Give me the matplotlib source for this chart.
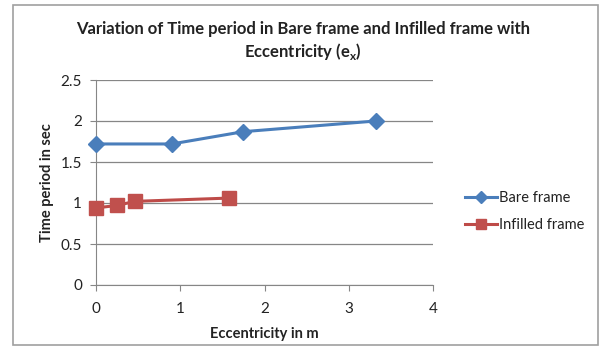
import matplotlib
matplotlib.use("Agg")
import matplotlib.pyplot as plt
from matplotlib.patches import Rectangle

bare_x = [0.0, 0.90, 1.75, 3.32]
bare_y = [1.72, 1.72, 1.87, 2.00]
inf_x = [0.0, 0.25, 0.46, 1.58]
inf_y = [0.94, 0.97, 1.02, 1.06]
xticks = [0, 1, 2, 3, 4]
yticks = [0, 0.5, 1, 1.5, 2, 2.5]
ytick_labels = ["0", "0.5", "1", "1.5", "2", "2.5"]

plt.rcParams['font.family'] = ['Lato', 'DejaVu Sans']

fig = plt.figure(figsize=(6.03, 3.56), dpi=100)
fig.patches.append(Rectangle((13/603, 1 - 345/356), (598-13)/603, (345-5)/356,
                             transform=fig.transFigure, fill=False,
                             edgecolor='#a0a0a0', linewidth=1.2))
ax = fig.add_axes([96/603, 1 - 285/356, (433-96)/603, (285-80)/356])

ax.plot(bare_x, bare_y, color='#4a7ebb', linewidth=2.2, marker='D', markersize=8,
        markerfacecolor='#4a7ebb', markeredgecolor='#4a7ebb', label='Bare frame',
        zorder=3, clip_on=False)
ax.plot(inf_x, inf_y, color='#be4b48', linewidth=2.2, marker='s', markersize=10,
        markerfacecolor='#c0504d', markeredgecolor='#c0504d', label='Infilled frame',
        zorder=3, clip_on=False)

ax.set_xlim(0, 4)
ax.set_ylim(0, 2.5)
ax.set_xticks(xticks)
ax.set_yticks(yticks)
ax.set_yticklabels(ytick_labels)
ax.yaxis.grid(True, color='#868686', linewidth=0.9)
ax.set_axisbelow(True)
for s in ['top', 'right']:
    ax.spines[s].set_visible(False)
for s in ['left', 'bottom']:
    ax.spines[s].set_color('#868686')
ax.tick_params(axis='both', colors='#868686', labelcolor='#222222', labelsize=11, length=4)
ax.tick_params(axis='y', pad=6)
ax.tick_params(axis='x', pad=8)

ax.set_xlabel('Eccentricity in m', fontsize=10.5, fontweight='bold', color='#222222', labelpad=8)
ax.set_ylabel('Time period in sec', fontsize=10.5, fontweight='bold', color='#222222', labelpad=5)

fig.text(0.503, 1 - 29/356, 'Variation of Time period in Bare frame and Infilled frame with',
         ha='center', va='center', fontsize=12, fontweight='bold', color='#222222')
fig.text(0.503, 1 - 52/356, 'Eccentricity (e$_\\mathregular{x}$)',
         ha='center', va='center', fontsize=12, fontweight='bold', color='#222222')

leg = fig.legend(loc='upper left', bbox_to_anchor=(452/603, 1 - 178/356), frameon=False,
                 fontsize=10.5, handlelength=2.2, handletextpad=0.1, labelspacing=0.9,
                 markerscale=0.75)
for t in leg.get_texts():
    t.set_color('#222222')

fig.savefig('out.png', dpi=100)
